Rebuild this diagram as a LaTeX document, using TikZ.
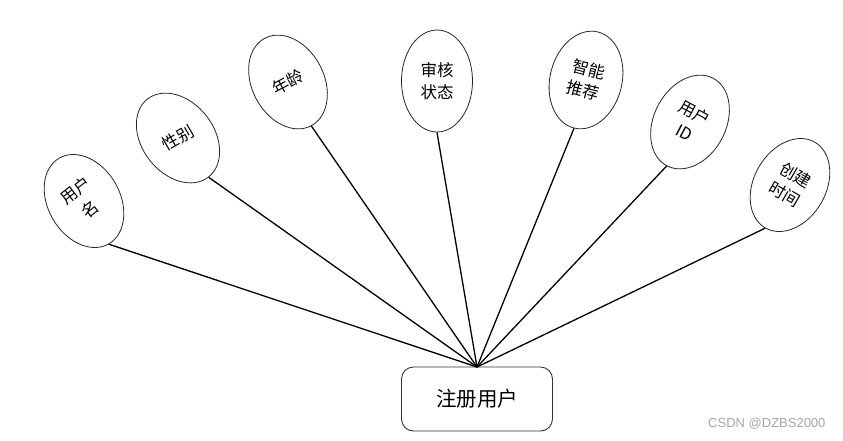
\documentclass[tikz,border=0pt]{standalone}
\usepackage{fontspec}
\setmainfont{Liberation Sans}
\newfontfamily\cjk{Noto Sans CJK SC}
\usetikzlibrary{shapes.geometric}
\tikzset{
  attr/.style={ellipse, draw=black!85, line width=0.8pt, fill=white, inner sep=0pt,
    minimum width=72pt, minimum height=99pt, font=\cjk\fontsize{16.5}{22}\selectfont, align=center},
  entity/.style={rectangle, rounded corners=12pt, draw=black!80, line width=0.9pt, fill=white,
    minimum width=151pt, minimum height=64pt, font=\cjk\fontsize{20.5}{24}\selectfont},
  link/.style={line width=1.3pt, black},
}
\begin{document}
\begin{tikzpicture}[x=1pt,y=-1pt]
\useasboundingbox (0,0) rectangle (843,440);
\fill[white] (0,0) rectangle (843,440);
\node[entity] (e) at (477,399) {注册用户};
\coordinate (hub) at (477,367);
\node[attr, rotate=30] (a1) at (84,201) {\rotatebox{8}{\begin{tabular}{@{}c@{}}用户\\[2pt]名\end{tabular}}};
\node[attr, rotate=38] (a2) at (178,138) {\rotatebox{-8}{性别}};
\node[attr, rotate=28] (a3) at (288,82) {年龄};
\node[attr, minimum width=71pt, minimum height=102pt] (a4) at (437,81) {审核\\状态};
\node[attr, rotate=-14] (a5) at (586,80) {智能\\推荐};
\node[attr, rotate=-28] (a6) at (690,122) {用户\\ID};
\node[attr, rotate=-30] (a7) at (790,185) {创建\\时间};
\foreach \n in {a1,a2,a3,a4,a5,a6,a7}
  \draw[link] (hub) -- (\n.south);
\node[font=\fontsize{13}{15}\selectfont, text=black!35, anchor=east] (wm) at (829,424) {CSDN @DZBS2000};
\end{tikzpicture}
\end{document}
